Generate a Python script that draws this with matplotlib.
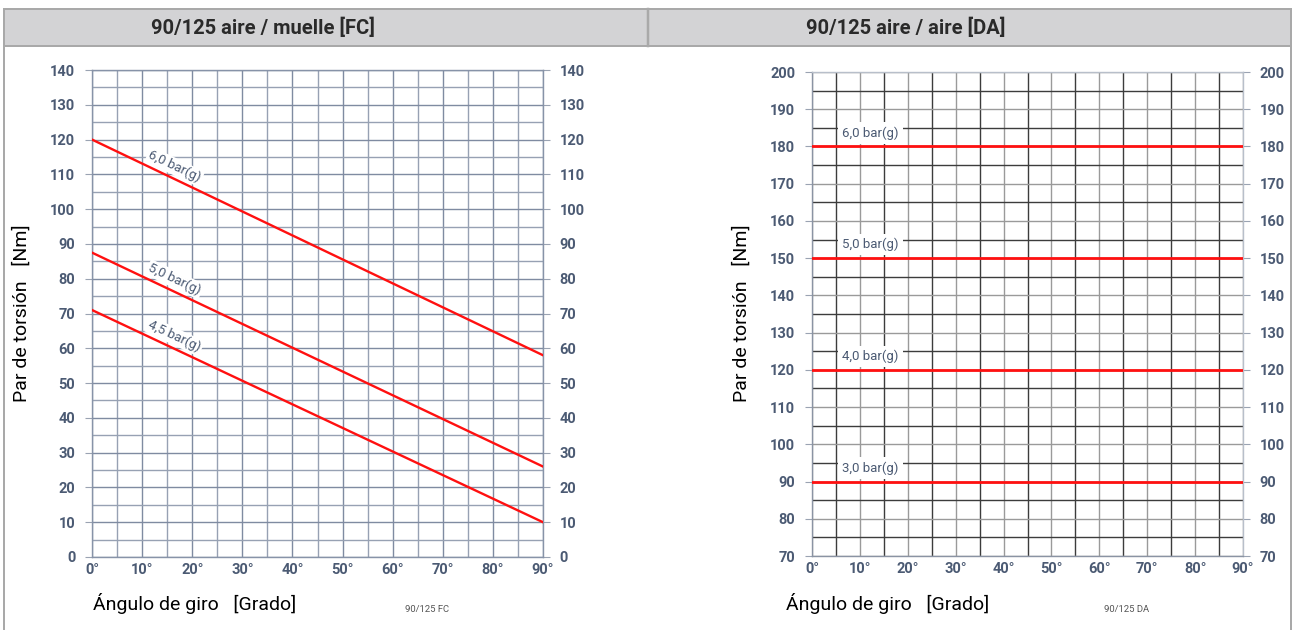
import numpy as np
import matplotlib
matplotlib.use("Agg")
import matplotlib.pyplot as plt
from matplotlib.patches import Rectangle
from matplotlib.lines import Line2D

plt.rcParams['font.family'] = ['Roboto', 'DejaVu Sans']

# ---- data ----
angles = [0, 90]
fc_labels = ['6,0 bar(g)', '5,0 bar(g)', '4,5 bar(g)']
fc_start = [120, 87.5, 71]
fc_end = [58, 26, 10]
da_labels = ['6,0 bar(g)', '5,0 bar(g)', '4,0 bar(g)', '3,0 bar(g)']
da_torque = [180, 150, 120, 90]
x_ticks = list(range(0, 91, 10))
x_ticklabels = [f"{v}°" for v in x_ticks]
fc_yticks = list(range(0, 141, 10))
da_yticks = list(range(70, 201, 10))
titles = ['90/125 aire / muelle [FC]', '90/125 aire / aire [DA]']
codes = ['90/125 FC', '90/125 DA']

W, H = 1298, 630
fig = plt.figure(figsize=(W / 100, H / 100), dpi=100)
fig.patch.set_facecolor('white')

def fx(px):
    return px / W

def fy(py):
    return 1 - py / H

border = '#a9a9a9'
# header band
fig.patches.append(Rectangle((fx(4), fy(46)), fx(1291) - fx(4), fy(9) - fy(46),
                             transform=fig.transFigure, facecolor='#d3d3d5',
                             edgecolor='none', zorder=0))
for (x0, y0, x1, y1, lw) in [(4, 9, 1291, 9, 2), (4, 46, 1291, 46, 2),
                             (4, 9, 4, 630, 2), (648, 9, 648, 46, 2.5),
                             (1291, 9, 1291, 630, 2)]:
    fig.add_artist(Line2D([fx(x0), fx(x1)], [fy(y0), fy(y1)], color=border,
                          lw=lw * 0.72, transform=fig.transFigure))

fig.text(fx(263), fy(28), titles[0], ha='center', va='center', fontsize=14.5,
         fontweight='bold', color='#2a2a2a')
fig.text(fx(906), fy(28), titles[1], ha='center', va='center', fontsize=14.5,
         fontweight='bold', color='#2a2a2a')

tick_color = '#4b5a73'

def style_axes(ax, yticks, grid_major, grid_minor, spine_color):
    ax.set_xlim(0, 90)
    ax.set_ylim(yticks[0], yticks[-1])
    ax.set_xticks(x_ticks)
    ax.set_xticklabels(x_ticklabels)
    ax.set_xticks(np.arange(5, 90, 10), minor=True)
    ax.set_yticks(yticks)
    ax.set_yticks(np.arange(yticks[0] + 5, yticks[-1], 10), minor=True)
    ax.tick_params(axis='x', which='both', length=0, pad=4, labelsize=10.5,
                   labelcolor=tick_color)
    ax.tick_params(axis='y', which='major', length=5, width=0.8, color='#9aa3b2',
                   pad=7, labelsize=10.5, labelcolor=tick_color, left=True,
                   right=True, labelright=True)
    ax.tick_params(axis='y', which='minor', length=0)
    for lab in ax.get_xticklabels() + ax.get_yticklabels():
        lab.set_fontweight('bold')
    ax.grid(True, which='major', color=grid_major, lw=1.0)
    ax.grid(True, which='minor', color=grid_minor, lw=1.0)
    ax.set_axisbelow(True)
    for s in ax.spines.values():
        s.set_color(spine_color)
        s.set_linewidth(1.0)

# ---- left chart (FC) ----
ax1 = fig.add_axes([fx(92), fy(557), fx(543) - fx(92), fy(70) - fy(557)])
style_axes(ax1, fc_yticks, '#7f8ba1', '#97a1b3', '#8793a8')
for lab, y0, y1 in zip(fc_labels, fc_start, fc_end):
    ax1.plot(angles, [y0, y1], color='#ff1010', lw=1.7, zorder=3)
    xl = 16.5
    yl = y0 + (y1 - y0) * xl / 90 + 3.6
    p0 = ax1.transData.transform((0, y0))
    p1 = ax1.transData.transform((90, y1))
    ang = np.degrees(np.arctan2(p1[1] - p0[1], p1[0] - p0[0]))
    ax1.text(xl, yl, lab, rotation=ang, rotation_mode='anchor', ha='center',
             va='center', fontsize=9.5, color='#4b5a73', zorder=2.5,
             bbox=dict(boxstyle='square,pad=0.12', fc='white', ec='none'))

# ---- right chart (DA) ----
ax2 = fig.add_axes([fx(812), fy(556), fx(1243) - fx(812), fy(72) - fy(556)])
style_axes(ax2, da_yticks, '#9a9a9a', '#3c3c3c', '#b8bfca')
ax2.spines['left'].set_color('#8a93a3')
ax2.spines['bottom'].set_color('#8a93a3')
for lab, v in zip(da_labels, da_torque):
    ax2.plot(angles, [v, v], color='#ff1010', lw=2.0, zorder=3)
    ax2.text(12.2, v + 3.6, lab, ha='center', va='center', fontsize=9.5,
             color='#4b5a73', zorder=2.5,
             bbox=dict(boxstyle='square,pad=0.3', fc='white', ec='none'))

# axis labels
ylab = 'Par de torsión   [Nm]'
xlab = 'Ángulo de giro   [Grado]'
for xp, yp, rot, txt in [(22, 313, 90, ylab), (742, 313, 90, ylab),
                         (195, 603, 0, xlab), (888, 603, 0, xlab)]:
    fig.text(fx(xp), fy(yp), txt, rotation=rot, ha='center', va='center',
             fontsize=14, color='black')
fig.text(fx(427), fy(609), codes[0], ha='center', va='center', fontsize=6.8,
         color='#555555')
fig.text(fx(1127), fy(609), codes[1], ha='center', va='center', fontsize=6.8,
         color='#555555')

fig.savefig('out.png', dpi=100, facecolor='white')
